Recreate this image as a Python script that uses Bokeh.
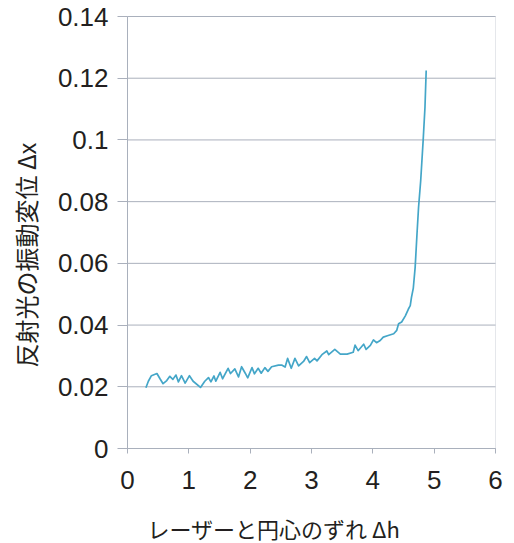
import math
from bokeh.plotting import figure
from bokeh.models import Range1d, FixedTicker, Label, BoxAnnotation
from bokeh.embed import file_html
from bokeh.resources import INLINE

# レーザーと円心のずれ Δh
dh = [0.30, 0.34, 0.39, 0.48, 0.53, 0.58, 0.64, 0.69, 0.74, 0.79,
      0.83, 0.88, 0.94, 1.01, 1.07, 1.19, 1.26, 1.32, 1.36, 1.41,
      1.44, 1.51, 1.55, 1.64, 1.68, 1.75, 1.81, 1.86, 1.92, 1.96,
      2.03, 2.07, 2.13, 2.18, 2.24, 2.29, 2.35, 2.46, 2.52, 2.57,
      2.61, 2.67, 2.73, 2.79, 2.87, 2.92, 2.97, 3.05, 3.09, 3.17,
      3.25, 3.28, 3.38, 3.47, 3.58, 3.68, 3.71, 3.76, 3.85, 3.89,
      3.96, 4.01, 4.06, 4.12, 4.17, 4.25, 4.34, 4.39, 4.42, 4.47,
      4.53, 4.58, 4.61, 4.63, 4.66, 4.69, 4.72, 4.745, 4.78, 4.82,
      4.85, 4.87]
# 反射光の振動変位 Δx
dx = [0.0197, 0.0218, 0.0236, 0.0243, 0.0226, 0.0210, 0.0220, 0.0234, 0.0224, 0.0238,
      0.0216, 0.0236, 0.0212, 0.0236, 0.0218, 0.0198, 0.0218, 0.0230, 0.0216, 0.0235,
      0.0218, 0.0247, 0.0226, 0.0260, 0.0243, 0.0258, 0.0232, 0.0265, 0.0244, 0.0229,
      0.0262, 0.0242, 0.0260, 0.0244, 0.0262, 0.0250, 0.0265, 0.0270, 0.0270, 0.0264,
      0.0292, 0.0260, 0.0292, 0.0268, 0.0282, 0.0298, 0.0278, 0.0292, 0.0284, 0.0304,
      0.0316, 0.0304, 0.0321, 0.0306, 0.0306, 0.0312, 0.0335, 0.0317, 0.0338, 0.0321,
      0.0334, 0.0352, 0.0343, 0.0350, 0.0361, 0.0366, 0.0372, 0.0383, 0.0404, 0.0410,
      0.0430, 0.0452, 0.0463, 0.0490, 0.0520, 0.0587, 0.0695, 0.0780, 0.0867, 0.0997,
      0.1105, 0.1225]

x_ticks = [0, 1, 2, 3, 4, 5, 6]
y_ticks = [0, 0.02, 0.04, 0.06, 0.08, 0.1, 0.12, 0.14]
y_tick_labels = ["0", "0.02", "0.04", "0.06", "0.08", "0.1", "0.12", "0.14"]

x_label = "レーザーと円心のずれ Δh"
y_label = "反射光の振動変位 Δx"

TEXT = "#231f20"
GRID = "#aab0bc"
LINE = "#44a6c8"
NUM_FONT = "Liberation Sans"
JP_FONT = "Noto Sans CJK JP"

X_MIN, X_MAX = 0, 6
Y_MIN, Y_MAX = 0, 0.14

# canvas layout (pixels): the plotting box sits inside a frame that fills the canvas,
# so that the axes, tick labels and axis titles are drawn inside it without clipping
W, H = 506, 542
BOX_L, BOX_R, BOX_T, BOX_B = 127, 495, 16, 448
ux = (X_MAX - X_MIN) / (BOX_R - BOX_L)
uy = (Y_MAX - Y_MIN) / (BOX_B - BOX_T)
x_start, x_end = X_MIN - BOX_L * ux, X_MAX + (W - BOX_R) * ux
y_start, y_end = Y_MIN - (H - BOX_B) * uy, Y_MAX + BOX_T * uy

p = figure(width=W, height=H, output_backend="svg", toolbar_location=None,
           x_range=Range1d(x_start, x_end), y_range=Range1d(y_start, y_end),
           min_border=0)

p.background_fill_color = "white"
p.border_fill_color = "white"
p.outline_line_color = None
p.xgrid.visible = False
p.ygrid.visible = False

# horizontal grid lines at the y ticks, across the 0..6 span
p.segment(x0=X_MIN, x1=X_MAX, y0=y_ticks, y1=y_ticks, line_color=GRID, line_width=1)
# box around the plotting area
p.add_layout(BoxAnnotation(left=X_MIN, right=X_MAX, bottom=Y_MIN, top=Y_MAX,
                           fill_color=None, line_color=GRID, line_width=1))

p.line(dh, dx, line_color=LINE, line_width=1.7, line_join="round")

p.xaxis.ticker = FixedTicker(ticks=x_ticks)
p.xaxis.fixed_location = Y_MIN
p.xaxis.bounds = (X_MIN, X_MAX)
p.yaxis.ticker = FixedTicker(ticks=y_ticks)
p.yaxis.fixed_location = X_MIN
p.yaxis.bounds = (Y_MIN, Y_MAX)
p.yaxis.major_label_overrides = {t: s for t, s in zip(y_ticks, y_tick_labels)}

for ax in (p.xaxis, p.yaxis):
    ax.axis_line_color = GRID
    ax.major_tick_line_color = GRID
    ax.minor_tick_line_color = None
    ax.major_tick_in = 0
    ax.major_label_text_font = NUM_FONT
    ax.major_label_text_color = TEXT
    ax.major_label_text_font_size = "26px"

p.yaxis.major_tick_out = 10
p.yaxis.major_label_standoff = 9
p.xaxis.major_tick_out = 5
p.xaxis.major_label_standoff = 17

# axis titles (screen units from the canvas bottom-left)
p.add_layout(Label(x=25, y=H - 367, x_units="screen", y_units="screen",
                   text=y_label, angle=math.pi / 2,
                   text_align="left", text_baseline="middle",
                   text_font=JP_FONT, text_font_size="24px",
                   text_color=TEXT))

p.add_layout(Label(x=147, y=H - 527, x_units="screen", y_units="screen",
                   text=x_label,
                   text_align="left", text_baseline="middle",
                   text_font=JP_FONT, text_font_size="22px",
                   text_color=TEXT))

open("out.html", "w").write(file_html(p, INLINE))
